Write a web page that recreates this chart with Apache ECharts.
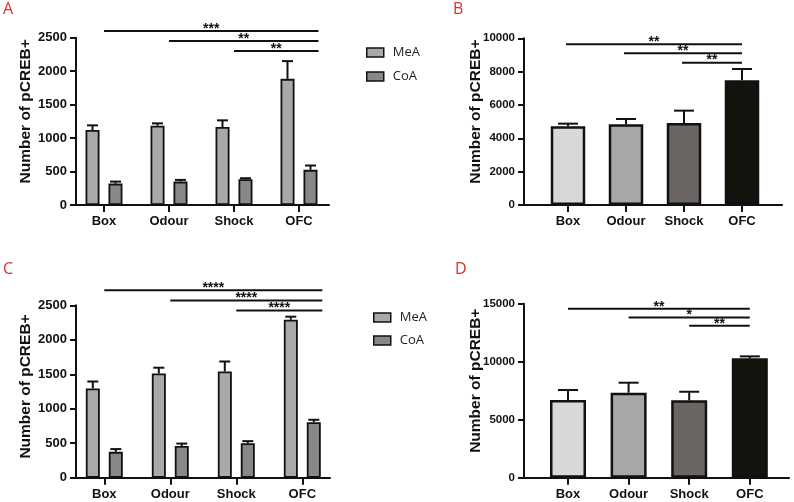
<!DOCTYPE html>
<html>
<head>
<meta charset="utf-8">
<script src="https://cdn.jsdelivr.net/npm/echarts@6/dist/echarts.min.js"></script>
<style>html,body{margin:0;padding:0;background:#fff}#chart{width:794px;height:502px}</style>
</head>
<body>
<div id="chart"></div>
<script>
// ---------- data ----------
var categories = ['Box', 'Odour', 'Shock', 'OFC'];
var seriesNames = ['MeA', 'CoA'];
var yTitle = 'Number of pCREB+';

// Panel A
var aMeA = [1120, 1185, 1165, 1885];
var aMeAErr = [1190, 1220, 1265, 2150];
var aCoA = [320, 350, 385, 525];
var aCoAErr = [350, 375, 400, 590];
var aSigFrom = [0, 1, 2];
var aSigY = [2600, 2450, 2300];
var aSigText = ['***', '**', '**'];
var aTicks = [0, 500, 1000, 1500, 2000, 2500];

// Panel B
var bVals = [4720, 4840, 4920, 7480];
var bErr = [4880, 5160, 5660, 8160];
var bSigFrom = [0, 1, 2];
var bSigY = [9640, 9100, 8540];
var bSigText = ['**', '**', '**'];
var bTicks = [0, 2000, 4000, 6000, 8000, 10000];

// Panel C
var cMeA = [1295, 1510, 1540, 2290];
var cMeAErr = [1395, 1595, 1685, 2335];
var cCoA = [375, 460, 500, 805];
var cCoAErr = [415, 495, 530, 840];
var cSigFrom = [0, 1, 2];
var cSigY = [2720, 2570, 2425];
var cSigText = ['****', '****', '****'];
var cTicks = [0, 500, 1000, 1500, 2000, 2500];

// Panel D
var dVals = [6700, 7330, 6670, 10290];
var dErr = [7560, 8190, 7410, 10460];
var dSigFrom = [0, 1, 2];
var dSigY = [14570, 13820, 13100];
var dSigText = ['**', '*', '**'];
var dTicks = [0, 5000, 10000, 15000];

// ---------- styles ----------
var FONT = 'Liberation Sans';
var groupColors = ['#a9a9a9', '#8a8886'];
var singleColors = ['#d9d8d8', '#a8a6a8', '#6b6664', '#14130e'];
var letterColor = '#d9302c';

var option = {
  animation: false,
  backgroundColor: '#fff',
  textStyle: { fontFamily: FONT },
  grid: [], xAxis: [], yAxis: [], series: [], legend: [],
  graphic: []
};

function addPanel(p) {
  var gi = option.grid.length;
  option.grid.push({ left: p.frame[0], top: p.top, width: p.frame[1], height: p.height });
  option.grid.push({ left: p.main[0], top: p.top, width: p.main[1], height: p.height });
  var ymax = p.ticks[p.ticks.length - 1];
  var interval = p.ticks[1] - p.ticks[0];
  var fx = option.xAxis.length;
  option.xAxis.push({
    type: 'value', gridIndex: gi, min: 0, max: 1,
    axisLine: { show: true, lineStyle: { color: '#111', width: 2 } },
    axisTick: { show: false }, axisLabel: { show: false }, splitLine: { show: false }
  });
  option.xAxis.push({
    type: 'category', gridIndex: gi + 1, data: categories,
    axisLine: { show: false },
    axisTick: { show: true, alignWithLabel: true, length: 7, lineStyle: { color: '#111', width: 2 } },
    axisLabel: { color: '#111', fontWeight: 'bold', fontSize: 13, fontFamily: FONT, margin: 10 },
    splitLine: { show: false }
  });
  var fy = option.yAxis.length;
  option.yAxis.push({
    type: 'value', gridIndex: gi, min: 0, max: ymax, interval: interval,
    name: yTitle, nameLocation: 'middle', nameGap: p.nameGap, nameMoveOverlap: false,
    nameTextStyle: { color: '#111', fontWeight: 'bold', fontSize: 15.5, fontFamily: FONT, padding: [0, 0, 0, p.namePad] },
    axisLine: { show: true, lineStyle: { color: '#111', width: 2 } },
    axisTick: { show: true, length: 6, lineStyle: { color: '#111', width: 2 } },
    axisLabel: { color: '#111', fontWeight: 'bold', fontSize: p.yFont, fontFamily: FONT, margin: 9,
      formatter: function (v) { return String(v); } },
    splitLine: { show: false }
  });
  option.yAxis.push({
    type: 'value', gridIndex: gi + 1, min: 0, max: ymax, interval: interval, show: false,
    splitLine: { show: false }
  });
  var mx = fx + 1, my = fy + 1;

  p.bars.forEach(function (b) {
    option.series.push({
      type: 'bar', name: b.name, xAxisIndex: mx, yAxisIndex: my,
      data: b.vals.map(function (v, i) {
        return b.colors ? { value: v, itemStyle: { color: b.colors[i] } } : v;
      }),
      barWidth: p.barWidth, barGap: p.barGap,
      itemStyle: { color: b.color || '#999', borderColor: '#111', borderWidth: p.border },
      z: 2
    });
  });
  p.bars.forEach(function (b) {
    var off = b.offset;
    option.series.push({
      type: 'custom', xAxisIndex: mx, yAxisIndex: my, z: 3, silent: true,
      data: b.vals.map(function (v, i) { return [i, v, b.err[i]]; }),
      encode: { x: 0, y: [1, 2] },
      renderItem: function (params, api) {
        var p0 = api.coord([api.value(0), api.value(1)]);
        var p1 = api.coord([api.value(0), api.value(2)]);
        var x = p0[0] + off;
        var hw = p.cap / 2;
        return {
          type: 'group', children: [
            { type: 'line', shape: { x1: x, y1: p0[1], x2: x, y2: p1[1] }, style: { stroke: '#111', lineWidth: 2 } },
            { type: 'line', shape: { x1: x - hw, y1: p1[1], x2: x + hw, y2: p1[1] }, style: { stroke: '#111', lineWidth: 2 } }
          ]
        };
      }
    });
  });
  option.series.push({
    type: 'custom', xAxisIndex: mx, yAxisIndex: my, z: 4, silent: true, clip: false,
    data: p.sigFrom.map(function (f, i) { return [f, categories.length - 1, p.sigY[i]]; }),
    encode: { x: [0, 1], y: 2 },
    renderItem: function (params, api) {
      var a = api.coord([api.value(0), api.value(2)]);
      var b = api.coord([api.value(1), api.value(2)]);
      var x1 = a[0] + p.sigStartOff, x2 = b[0] + p.sigEndOff;
      return {
        type: 'group', children: [
          { type: 'line', shape: { x1: x1, y1: a[1], x2: x2, y2: a[1] }, style: { stroke: '#111', lineWidth: 2 } },
          { type: 'text', x: (x1 + x2) / 2, y: a[1] + 5,
            style: { text: p.sigText[params.dataIndex], fill: '#111', font: 'bold 14px ' + FONT, align: 'center', verticalAlign: 'bottom' } }
        ]
      };
    }
  });
  if (p.legend) {
    option.legend.push({
      data: seriesNames, orient: 'vertical', left: p.legend[0], top: p.legend[1], padding: 0,
      itemWidth: 17, itemHeight: 9, itemGap: p.legend[2], icon: 'rect',
      textStyle: { color: '#222', fontSize: 13, fontFamily: 'Open Sans', padding: [0, 0, 0, 4] },
      itemStyle: { borderColor: '#111', borderWidth: 1.5 }
    });
  }
  option.graphic.push({
    type: 'text', left: p.letter[0], top: p.letter[1],
    style: { text: p.letter[2], fill: letterColor, font: '16px "Open Sans"' }
  });
}

addPanel({
  frame: [76, 253], main: [71.5, 260], top: 37.7, height: 167.3, yFont: 13,
  ticks: aTicks, nameGap: 42, namePad: 20, barWidth: 14, barGap: '64%', border: 1.8, cap: 11,
  bars: [
    { name: 'MeA', vals: aMeA, err: aMeAErr, color: groupColors[0], offset: -11.5 },
    { name: 'CoA', vals: aCoA, err: aCoAErr, color: groupColors[1], offset: 11.5 }
  ],
  sigFrom: aSigFrom, sigY: aSigY, sigText: aSigText, sigStartOff: 0, sigEndOff: 19.5,
  legend: [366, 46, 11], letter: [3, 1, 'A']
});
addPanel({
  frame: [524, 258], main: [539, 232], top: 38.3, height: 166.7, yFont: 11.5,
  ticks: bTicks, nameGap: 40, namePad: 20, barWidth: 34.5, barGap: '-100%', border: 2.5, cap: 20,
  bars: [
    { name: 'B', vals: bVals, err: bErr, colors: singleColors, offset: 0 }
  ],
  sigFrom: bSigFrom, sigY: bSigY, sigText: bSigText, sigStartOff: -2, sigEndOff: 0,
  letter: [453, 1, 'B']
});
addPanel({
  frame: [76, 254], main: [71.3, 264], top: 305.3, height: 172.4, yFont: 13,
  ticks: cTicks, nameGap: 42, namePad: 10, barWidth: 14, barGap: '64%', border: 1.8, cap: 11,
  bars: [
    { name: 'MeA', vals: cMeA, err: cMeAErr, color: groupColors[0], offset: -11.5 },
    { name: 'CoA', vals: cCoA, err: cCoAErr, color: groupColors[1], offset: 11.5 }
  ],
  sigFrom: cSigFrom, sigY: cSigY, sigText: cSigText, sigStartOff: 0, sigEndOff: 20,
  legend: [373, 311, 10], letter: [3, 261, 'C']
});
addPanel({
  frame: [524, 265], main: [537.7, 242.4], top: 303.7, height: 174, yFont: 11.5,
  ticks: dTicks, nameGap: 40, namePad: 20, barWidth: 36, barGap: '-100%', border: 2.5, cap: 20,
  bars: [
    { name: 'D', vals: dVals, err: dErr, colors: singleColors, offset: 0 }
  ],
  sigFrom: dSigFrom, sigY: dSigY, sigText: dSigText, sigStartOff: 0, sigEndOff: 0,
  letter: [455, 261, 'D']
});

var chart = echarts.init(document.getElementById('chart'), null, { renderer: 'canvas' });
chart.setOption(option);
</script>
</body>
</html>
